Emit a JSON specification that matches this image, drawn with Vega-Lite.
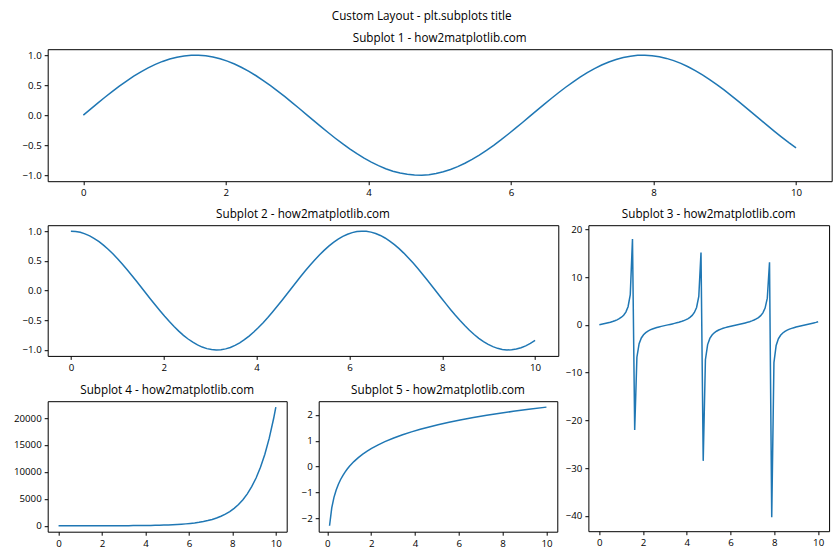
{
  "$schema": "https://vega.github.io/schema/vega-lite/v6.json",
  "title": {"text": "Custom Layout - plt.subplots title", "anchor": "middle", "frame": "bounds", "fontSize": 11.7, "font": "Open Sans", "fontWeight": "normal", "color": "#000", "baseline": "alphabetic", "offset": 1.7},
  "padding": {"left": 10.7, "top": 10.2, "right": 5, "bottom": 5},
  "config": {
    "view": {"stroke": "#000", "strokeWidth": 1},
    "axis": {"grid": false, "domain": false, "ticks": true, "tickSize": 3.5, "tickColor": "#000", "tickWidth": 1, "labelFont": "Open Sans", "labelFontSize": 9.7, "labelColor": "#000", "labelPadding": 3, "title": null, "labelFlush": false, "labelOverlap": false},
    "axisX": {"minExtent": 20},
    "title": {"font": "Open Sans", "fontSize": 11.7, "fontWeight": "normal", "color": "#000", "anchor": "middle", "offset": 4, "baseline": "alphabetic", "frame": "group"},
    "line": {"color": "#1f77b4", "strokeWidth": 1.5}
  },
  "datasets": {
    "tr": [
      {"x":0,"s":0,"c":1,"t":0},
      {"x":0.10101,"s":0.10084,"c":0.9949,"t":0.10135},
      {"x":0.20202,"s":0.20065,"c":0.97966,"t":0.20481},
      {"x":0.30303,"s":0.29841,"c":0.95444,"t":0.31266},
      {"x":0.40404,"s":0.39314,"c":0.91948,"t":0.42756},
      {"x":0.50505,"s":0.48385,"c":0.87515,"t":0.55288},
      {"x":0.60606,"s":0.56963,"c":0.8219,"t":0.69307},
      {"x":0.70707,"s":0.64961,"c":0.76027,"t":0.85445},
      {"x":0.80808,"s":0.72296,"c":0.69089,"t":1.04643},
      {"x":0.90909,"s":0.78895,"c":0.61446,"t":1.28396},
      {"x":1.0101,"s":0.84689,"c":0.53178,"t":1.59256},
      {"x":1.11111,"s":0.89619,"c":0.44367,"t":2.01997},
      {"x":1.21212,"s":0.93636,"c":0.35103,"t":2.66744},
      {"x":1.31313,"s":0.96699,"c":0.25482,"t":3.79473},
      {"x":1.41414,"s":0.98776,"c":0.15602,"t":6.3311},
      {"x":1.51515,"s":0.99845,"c":0.05562,"t":17.953},
      {"x":1.61616,"s":0.99897,"c":-0.04535,"t":-22.028},
      {"x":1.71717,"s":0.98931,"c":-0.14585,"t":-6.78286},
      {"x":1.81818,"s":0.96956,"c":-0.24487,"t":-3.95944},
      {"x":1.91919,"s":0.93992,"c":-0.34139,"t":-2.75321},
      {"x":2.0202,"s":0.90071,"c":-0.43443,"t":-2.0733},
      {"x":2.12121,"s":0.85231,"c":-0.52304,"t":-1.62951},
      {"x":2.22222,"s":0.79522,"c":-0.60632,"t":-1.31156},
      {"x":2.32323,"s":0.73003,"c":-0.68342,"t":-1.0682},
      {"x":2.42424,"s":0.65739,"c":-0.75355,"t":-0.87239},
      {"x":2.52525,"s":0.57805,"c":-0.816,"t":-0.7084},
      {"x":2.62626,"s":0.49282,"c":-0.87013,"t":-0.56638},
      {"x":2.72727,"s":0.40257,"c":-0.91539,"t":-0.43978},
      {"x":2.82828,"s":0.30821,"c":-0.95132,"t":-0.32398},
      {"x":2.92929,"s":0.21071,"c":-0.97755,"t":-0.21555},
      {"x":3.0303,"s":0.11106,"c":-0.99381,"t":-0.11175},
      {"x":3.13131,"s":0.01028,"c":-0.99995,"t":-0.01028},
      {"x":3.23232,"s":-0.09061,"c":-0.99589,"t":0.09098},
      {"x":3.33333,"s":-0.19057,"c":-0.98168,"t":0.19412},
      {"x":3.43434,"s":-0.28859,"c":-0.95746,"t":0.30141},
      {"x":3.53535,"s":-0.38366,"c":-0.92347,"t":0.41546},
      {"x":3.63636,"s":-0.47483,"c":-0.88008,"t":0.53953},
      {"x":3.73737,"s":-0.56116,"c":-0.82771,"t":0.67797},
      {"x":3.83838,"s":-0.64176,"c":-0.76691,"t":0.83682},
      {"x":3.93939,"s":-0.71582,"c":-0.69828,"t":1.02512},
      {"x":4.0404,"s":-0.78259,"c":-0.62254,"t":1.25709},
      {"x":4.14141,"s":-0.84137,"c":-0.54045,"t":1.5568},
      {"x":4.24242,"s":-0.89158,"c":-0.45286,"t":1.9688},
      {"x":4.34343,"s":-0.9327,"c":-0.36064,"t":2.58624},
      {"x":4.44444,"s":-0.96432,"c":-0.26475,"t":3.64237},
      {"x":4.54545,"s":-0.9861,"c":-0.16616,"t":5.93464},
      {"x":4.64646,"s":-0.99783,"c":-0.06588,"t":15.147},
      {"x":4.74747,"s":-0.99939,"c":0.03508,"t":-28.49},
      {"x":4.84848,"s":-0.99075,"c":0.13568,"t":-7.30233},
      {"x":4.94949,"s":-0.97202,"c":0.23489,"t":-4.1382},
      {"x":5.05051,"s":-0.94338,"c":0.33171,"t":-2.84399},
      {"x":5.15152,"s":-0.90512,"c":0.42515,"t":-2.12896},
      {"x":5.25253,"s":-0.85764,"c":0.51425,"t":-1.66774},
      {"x":5.35354,"s":-0.80141,"c":0.59811,"t":-1.3399},
      {"x":5.45455,"s":-0.73701,"c":0.67588,"t":-1.09045},
      {"x":5.55556,"s":-0.6651,"c":0.74675,"t":-0.89066},
      {"x":5.65657,"s":-0.58641,"c":0.81002,"t":-0.72395},
      {"x":5.75758,"s":-0.50174,"c":0.86502,"t":-0.58004},
      {"x":5.85859,"s":-0.41196,"c":0.9112,"t":-0.4521},
      {"x":5.9596,"s":-0.31797,"c":0.9481,"t":-0.33538},
      {"x":6.06061,"s":-0.22075,"c":0.97533,"t":-0.22633},
      {"x":6.16162,"s":-0.12127,"c":0.99262,"t":-0.12217},
      {"x":6.26263,"s":-0.02056,"c":0.99979,"t":-0.02056},
      {"x":6.36364,"s":0.08036,"c":0.99677,"t":0.08063},
      {"x":6.46465,"s":0.18047,"c":0.98358,"t":0.18348},
      {"x":6.56566,"s":0.27873,"c":0.96037,"t":0.29023},
      {"x":6.66667,"s":0.37415,"c":0.92737,"t":0.40346},
      {"x":6.76768,"s":0.46576,"c":0.88491,"t":0.52633},
      {"x":6.86869,"s":0.55262,"c":0.83344,"t":0.66306},
      {"x":6.9697,"s":0.63384,"c":0.77346,"t":0.81949},
      {"x":7.07071,"s":0.70861,"c":0.7056,"t":1.00426},
      {"x":7.17172,"s":0.77615,"c":0.63055,"t":1.2309},
      {"x":7.27273,"s":0.83577,"c":0.54907,"t":1.52216},
      {"x":7.37374,"s":0.88688,"c":0.462,"t":1.91967},
      {"x":7.47475,"s":0.92895,"c":0.37021,"t":2.50925},
      {"x":7.57576,"s":0.96155,"c":0.27465,"t":3.501},
      {"x":7.67677,"s":0.98434,"c":0.17629,"t":5.5837},
      {"x":7.77778,"s":0.9971,"c":0.07613,"t":13.0973},
      {"x":7.87879,"s":0.99969,"c":-0.0248,"t":-40.3046},
      {"x":7.9798,"s":0.9921,"c":-0.12548,"t":-7.90613},
      {"x":8.08081,"s":0.97439,"c":-0.22489,"t":-4.3328},
      {"x":8.18182,"s":0.94674,"c":-0.322,"t":-2.94025},
      {"x":8.28283,"s":0.90945,"c":-0.41582,"t":-2.18709},
      {"x":8.38384,"s":0.86288,"c":-0.50541,"t":-1.70728},
      {"x":8.48485,"s":0.80752,"c":-0.58984,"t":-1.36904},
      {"x":8.58586,"s":0.74392,"c":-0.66827,"t":-1.11321},
      {"x":8.68687,"s":0.67274,"c":-0.73988,"t":-0.90926},
      {"x":8.78788,"s":0.5947,"c":-0.80394,"t":-0.73974},
      {"x":8.88889,"s":0.51061,"c":-0.85982,"t":-0.59386},
      {"x":8.9899,"s":0.4213,"c":-0.90692,"t":-0.46454},
      {"x":9.09091,"s":0.3277,"c":-0.94478,"t":-0.34686},
      {"x":9.19192,"s":0.23076,"c":-0.97301,"t":-0.23716},
      {"x":9.29293,"s":0.13147,"c":-0.99132,"t":-0.13262},
      {"x":9.39394,"s":0.03083,"c":-0.99952,"t":-0.03085},
      {"x":9.49495,"s":-0.07011,"c":-0.99754,"t":0.07029},
      {"x":9.59596,"s":-0.17035,"c":-0.98538,"t":0.17287},
      {"x":9.69697,"s":-0.26884,"c":-0.96319,"t":0.27912},
      {"x":9.79798,"s":-0.3646,"c":-0.93117,"t":0.39155},
      {"x":9.89899,"s":-0.45664,"c":-0.88965,"t":0.51328},
      {"x":10,"s":-0.54402,"c":-0.83907,"t":0.64836}
    ],
    "ex": [
      {"x":0,"y":1},{"x":0.20202,"y":1.2239},{"x":0.40404,"y":1.4979},{"x":0.60606,"y":1.8333},{"x":0.80808,"y":2.2437},
      {"x":1.0101,"y":2.7459},{"x":1.21212,"y":3.3605},{"x":1.41414,"y":4.113},{"x":1.61616,"y":5.0337},{"x":1.81818,"y":6.1606},
      {"x":2.0202,"y":7.5398},{"x":2.22222,"y":9.2278},{"x":2.42424,"y":11.294},{"x":2.62626,"y":13.822},{"x":2.82828,"y":16.917},
      {"x":3.0303,"y":20.704},{"x":3.23232,"y":25.339},{"x":3.43434,"y":31.011},{"x":3.63636,"y":37.954},{"x":3.83838,"y":46.451},
      {"x":4.0404,"y":56.849},{"x":4.24242,"y":69.576},{"x":4.44444,"y":85.153},{"x":4.64646,"y":104.22},{"x":4.84848,"y":127.55},
      {"x":5.05051,"y":156.1},{"x":5.25253,"y":191.05},{"x":5.45455,"y":233.82},{"x":5.65657,"y":286.17},{"x":5.85859,"y":350.23},
      {"x":6.06061,"y":428.63},{"x":6.26263,"y":524.6},{"x":6.46465,"y":642.04},{"x":6.66667,"y":785.78},{"x":6.86869,"y":961.69},
      {"x":7.07071,"y":1176.98},{"x":7.27273,"y":1440.48},{"x":7.47475,"y":1762.96},{"x":7.67677,"y":2157.65},{"x":7.87879,"y":2640.68},
      {"x":8.08081,"y":3231.84},{"x":8.28283,"y":3955.38},{"x":8.48485,"y":4840.87},{"x":8.68687,"y":5924.63},{"x":8.88889,"y":7250.99},
      {"x":9.09091,"y":8874.32},{"x":9.29293,"y":10861.04},{"x":9.49495,"y":13292.55},{"x":9.69697,"y":16268.42},{"x":9.89899,"y":19910.53},
      {"x":10,"y":22026.47}
    ],
    "lg": [
      {"x":0.10101,"y":-2.29254},{"x":0.20202,"y":-1.59939},{"x":0.30303,"y":-1.19392},{"x":0.40404,"y":-0.90624},{"x":0.50505,"y":-0.6831},
      {"x":0.60606,"y":-0.50078},{"x":0.70707,"y":-0.34663},{"x":0.80808,"y":-0.21309},{"x":0.90909,"y":-0.09531},{"x":1.0101,"y":0.01005},
      {"x":1.21212,"y":0.19237},{"x":1.41414,"y":0.34652},{"x":1.61616,"y":0.48005},{"x":1.81818,"y":0.59784},{"x":2.0202,"y":0.7032},
      {"x":2.32323,"y":0.84296},{"x":2.62626,"y":0.96556},{"x":3.0303,"y":1.10866},{"x":3.43434,"y":1.23383},{"x":3.83838,"y":1.34505},
      {"x":4.24242,"y":1.44514},{"x":4.64646,"y":1.53611},{"x":5.05051,"y":1.61949},{"x":5.55556,"y":1.7148},{"x":6.06061,"y":1.80181},
      {"x":6.66667,"y":1.89712},{"x":7.27273,"y":1.98413},{"x":7.87879,"y":2.06417},{"x":8.48485,"y":2.13828},{"x":9.19192,"y":2.21833},
      {"x":10,"y":2.30259}
    ]
  },
  "spacing": 5,
  "vconcat": [
    {
      "width": 784, "height": 132,
      "title": "Subplot 1 - how2matplotlib.com",
      "data": {"name": "tr"},
      "mark": {"type": "line"},
      "encoding": {
        "x": {"field": "x", "type": "quantitative", "scale": {"domain": [-0.5, 10.5], "nice": false, "zero": false}, "axis": {"values": [0, 2, 4, 6, 8, 10], "format": "d"}},
        "y": {"field": "s", "type": "quantitative", "scale": {"domain": [-1.1, 1.1], "nice": false, "zero": false}, "axis": {"values": [-1, -0.5, 0, 0.5, 1], "format": ".1f"}}
      }
    },
    {
      "spacing": 1.7,
      "hconcat": [
        {
          "spacing": 7,
          "vconcat": [
            {
              "width": 510.6, "height": 130.7,
              "title": "Subplot 2 - how2matplotlib.com",
              "data": {"name": "tr"},
              "mark": {"type": "line"},
              "encoding": {
                "x": {"field": "x", "type": "quantitative", "scale": {"domain": [-0.5, 10.5], "nice": false, "zero": false}, "axis": {"values": [0, 2, 4, 6, 8, 10], "format": "d"}},
                "y": {"field": "c", "type": "quantitative", "scale": {"domain": [-1.1, 1.1], "nice": false, "zero": false}, "axis": {"values": [-1, -0.5, 0, 0.5, 1], "format": ".1f"}}
              }
            },
            {
              "spacing": 10,
              "hconcat": [
                {
                  "width": 239, "height": 130.5,
                  "title": "Subplot 4 - how2matplotlib.com",
                  "data": {"name": "ex"},
                  "mark": {"type": "line"},
                  "encoding": {
                    "x": {"field": "x", "type": "quantitative", "scale": {"domain": [-0.5, 10.5], "nice": false, "zero": false}, "axis": {"values": [0, 2, 4, 6, 8, 10], "format": "d"}},
                    "y": {"field": "y", "type": "quantitative", "scale": {"domain": [-1100.27, 23127.7], "nice": false, "zero": false}, "axis": {"values": [0, 5000, 10000, 15000, 20000], "format": "d", "minExtent": 36}}
                  }
                },
                {
                  "width": 238.6, "height": 130.5,
                  "title": "Subplot 5 - how2matplotlib.com",
                  "data": {"name": "lg"},
                  "mark": {"type": "line"},
                  "encoding": {
                    "x": {"field": "x", "type": "quantitative", "scale": {"domain": [-0.39394, 10.49495], "nice": false, "zero": false}, "axis": {"values": [0, 2, 4, 6, 8, 10], "format": "d"}},
                    "y": {"field": "y", "type": "quantitative", "scale": {"domain": [-2.52229, 2.53234], "nice": false, "zero": false}, "axis": {"values": [-2, -1, 0, 1, 2], "format": "d", "minExtent": 20}}
                  }
                }
              ]
            }
          ]
        },
        {
          "width": 240.7, "height": 306,
          "title": "Subplot 3 - how2matplotlib.com",
          "data": {"name": "tr"},
          "mark": {"type": "line"},
          "encoding": {
            "x": {"field": "x", "type": "quantitative", "scale": {"domain": [-0.5, 10.5], "nice": false, "zero": false}, "axis": {"values": [0, 2, 4, 6, 8, 10], "format": "d"}},
            "y": {"field": "t", "type": "quantitative", "scale": {"domain": [-43.2175, 20.8659], "nice": false, "zero": false}, "axis": {"values": [-40, -30, -20, -10, 0, 10, 20], "format": "d", "minExtent": 26}}
          }
        }
      ]
    }
  ]
}
